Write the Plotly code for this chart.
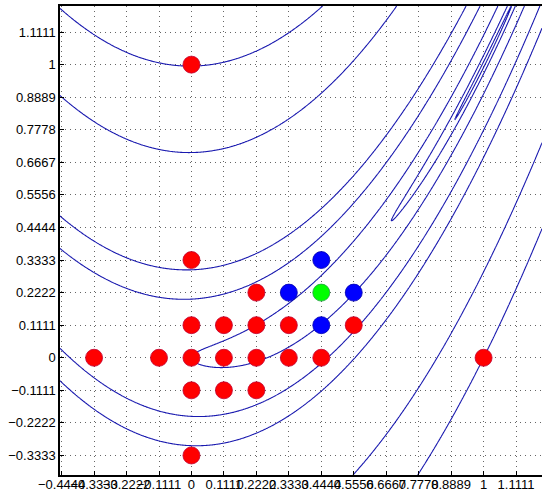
import numpy as np
import plotly.graph_objects as go

# ---- data ----
tick_vals_x = [-4/9, -3/9, -2/9, -1/9, 0, 1/9, 2/9, 3/9, 4/9, 5/9, 6/9, 7/9, 8/9, 1, 10/9]
tick_text_x = ["\u22120.4444", "\u22120.3333", "\u22120.2222", "\u22120.1111", "0", "0.1111", "0.2222",
               "0.3333", "0.4444", "0.5556", "0.6667", "0.7778", "0.8889", "1", "1.1111"]
tick_vals_y = [-3/9, -2/9, -1/9, 0, 1/9, 2/9, 3/9, 4/9, 5/9, 6/9, 7/9, 8/9, 1, 10/9]
tick_text_y = ["\u22120.3333", "\u22120.2222", "\u22120.1111", "0", "0.1111", "0.2222", "0.3333",
               "0.4444", "0.5556", "0.6667", "0.7778", "0.8889", "1", "1.1111"]

contour_levels = [0.01, 0.1, 1, 5, 10, 50, 100]

red_x = [0, 0, 2/9, 0, 1/9, 2/9, 3/9, 5/9, -3/9, -1/9, 0, 1/9, 2/9, 3/9, 4/9, 1, 0, 1/9, 2/9, 0]
red_y = [1, 3/9, 2/9, 1/9, 1/9, 1/9, 1/9, 1/9, 0, 0, 0, 0, 0, 0, 0, 0, -1/9, -1/9, -1/9, -3/9]
blue_x = [4/9, 3/9, 5/9, 4/9]
blue_y = [3/9, 2/9, 2/9, 1/9]
green_x = [4/9]
green_y = [2/9]

x_range = [-0.45, 1.2]
y_range = [-0.4, 1.2]

# ---- function grid (Rosenbrock) ----
gx = np.linspace(x_range[0], x_range[1], 500)
gy = np.linspace(y_range[0], y_range[1], 500)
X, Y = np.meshgrid(gx, gy)
Z = 100 * (Y - X**2) ** 2 + (1 - X) ** 2

fig = go.Figure()
line_color = "rgb(25,25,175)"
for L in contour_levels:
    fig.add_trace(go.Contour(
        x=gx, y=gy, z=Z, autocontour=False,
        contours=dict(start=L, end=L, size=1, coloring="none"),
        line=dict(color=line_color, width=1.1),
        showscale=False, hoverinfo="skip"))

def pts(xs, ys, color, edge):
    fig.add_trace(go.Scatter(x=xs, y=ys, mode="markers",
                             marker=dict(size=17, color=color, line=dict(color=edge, width=0.8)),
                             showlegend=False))

pts(red_x, red_y, "#ff0000", "#c00030")
pts(blue_x, blue_y, "#0000ff", "#0000b0")
pts(green_x, green_y, "#00ff00", "#20a040")

axis_common = dict(showgrid=True, gridcolor="rgba(0,0,0,0.6)", griddash="1px,4px", gridwidth=1,
                   zeroline=False, showline=True, linecolor="black", linewidth=1.5, mirror=True,
                   ticks="inside", ticklen=4, tickcolor="black", automargin=False,
                   tickfont=dict(family="Liberation Sans, Arial, sans-serif", size=13, color="black"))

fig.update_xaxes(range=x_range, tickvals=tick_vals_x, ticktext=tick_text_x, tickangle=0,
                 ticklabelstandoff=-3, **axis_common)
fig.update_yaxes(range=y_range, tickvals=tick_vals_y, ticktext=tick_text_y, **axis_common)

fig.update_layout(width=542, height=493, margin=dict(l=60, r=0, t=6, b=18),
                  paper_bgcolor="white", plot_bgcolor="white", showlegend=False)

fig.write_html("out.html", config={"displayModeBar": False},
               post_script="document.body.style.margin='0';document.body.style.overflow='hidden';")
